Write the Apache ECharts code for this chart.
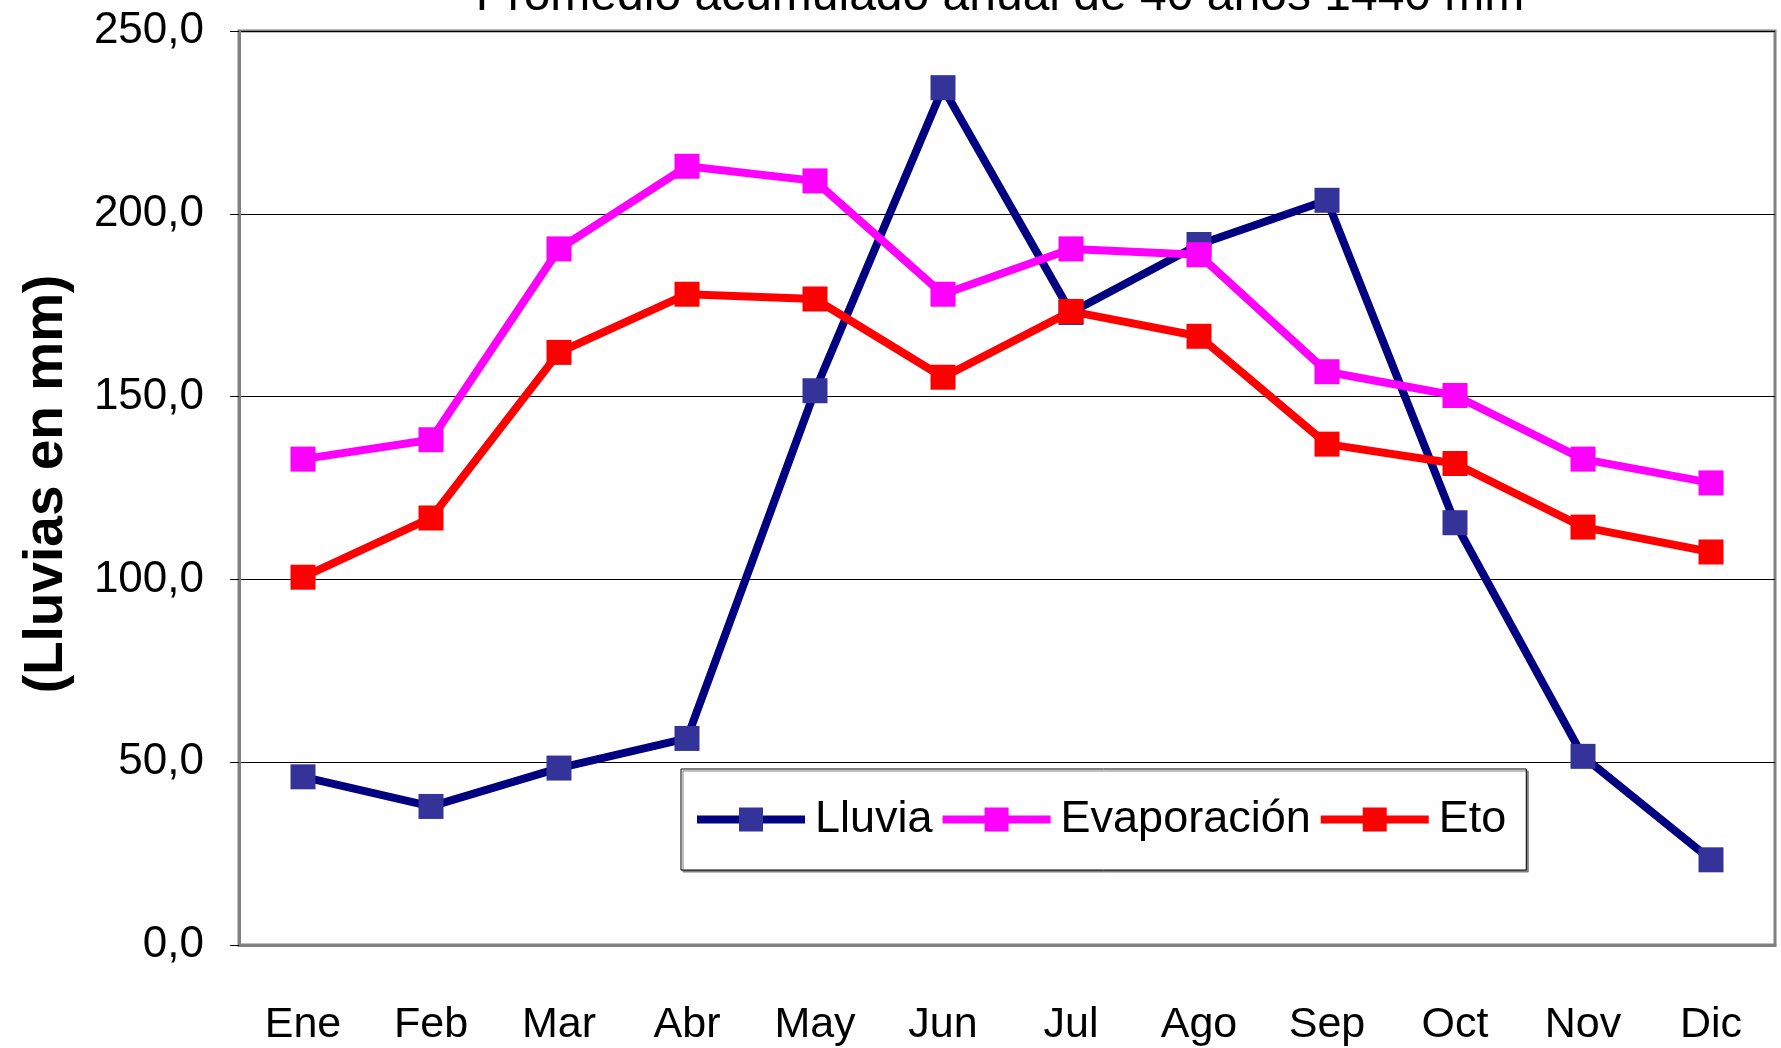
<!DOCTYPE html>
<html>
<head>
<meta charset="utf-8">
<script src="https://cdn.jsdelivr.net/npm/echarts@6/dist/echarts.min.js"></script>
<style>
  html, body { margin: 0; padding: 0; background: #fff; }
  #chart { width: 1781px; height: 1048px; }
</style>
</head>
<body>
<div id="chart"></div>
<script>
const months = ['Ene', 'Feb', 'Mar', 'Abr', 'May', 'Jun', 'Jul', 'Ago', 'Sep', 'Oct', 'Nov', 'Dic']
const lluvia = [46.0, 37.9, 48.4, 56.5, 151.6, 234.5, 173.0, 191.6, 203.7, 115.5, 51.6, 23.3]
const evaporacion = [132.9, 138.2, 190.4, 213.0, 209.0, 178.0, 190.4, 188.8, 156.8, 150.3, 132.9, 126.4]
const eto = [100.6, 116.8, 162.1, 178.0, 176.7, 155.3, 173.3, 166.5, 137.0, 131.7, 114.3, 107.5]
const yTicks = { min: 0, max: 250, interval: 50 }

const font = 'Liberation Sans, Arial, sans-serif'

function lineSeries(name, data, lineColor, markColor) {
  return {
    name,
    type: 'line',
    data,
    symbol: 'rect',
    symbolSize: 25,
    lineStyle: { color: lineColor, width: 8 },
    itemStyle: { color: markColor, borderColor: markColor, borderWidth: 0 }
  }
}

const chart = echarts.init(document.getElementById('chart'))
chart.setOption({
  animation: false,
  textStyle: { fontFamily: font },
  grid: {
    left: 239, top: 31, right: 6, bottom: 103,
    show: true, borderColor: '#808080', borderWidth: 3
  },
  graphic: [
    {
      type: 'text',
      x: 1000, y: 21,
      style: {
        text: 'Promedio acumulado anual de 40 años 1440 mm',
        font: '48px ' + font,
        fill: '#000',
        align: 'center',
        verticalAlign: 'bottom'
      }
    },
    {
      type: 'text',
      x: 47, y: 484,
      rotation: Math.PI / 2,
      style: {
        text: '(Lluvias en mm)',
        font: 'bold 55px ' + font,
        fill: '#000',
        align: 'center',
        verticalAlign: 'middle'
      }
    }
  ],
  legend: {
    left: 681, top: 769,
    padding: [28, 20, 28, 12],
    itemGap: 6,
    itemWidth: 108,
    itemHeight: 30,
    backgroundColor: '#fff',
    borderColor: '#000',
    borderWidth: 1,
    shadowColor: '#808080',
    shadowOffsetX: 2,
    shadowOffsetY: 2,
    shadowBlur: 0,
    lineStyle: { width: 8 },
    textStyle: { fontSize: 45, color: '#000', padding: [0, 0, 0, 5] },
    data: ['Lluvia', 'Evaporación', 'Eto']
  },
  xAxis: {
    type: 'category',
    data: months,
    axisLine: { lineStyle: { color: '#808080', width: 3 } },
    axisTick: { length: 15, lineStyle: { color: '#000', width: 1 } },
    axisLabel: { fontSize: 43, color: '#000', margin: 59 }
  },
  yAxis: {
    type: 'value',
    min: yTicks.min,
    max: yTicks.max,
    interval: yTicks.interval,
    axisLine: { show: true, lineStyle: { color: '#808080', width: 3 } },
    axisTick: { show: true, length: 9, lineStyle: { color: '#000', width: 1 } },
    axisLabel: {
      fontSize: 44, color: '#000', margin: 35,
      formatter: v => v.toFixed(1).replace('.', ',')
    },
    splitLine: { lineStyle: { color: '#000', width: 1 } }
  },
  series: [
    lineSeries('Lluvia', lluvia, '#000080', '#333399'),
    lineSeries('Evaporación', evaporacion, '#FF00FF', '#FF00FF'),
    lineSeries('Eto', eto, '#FF0000', '#FF0000')
  ]
})
</script>
</body>
</html>
